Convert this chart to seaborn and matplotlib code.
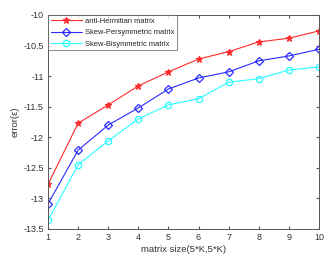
import matplotlib
matplotlib.use("Agg")
import matplotlib.pyplot as plt
import seaborn as sns
import pandas as pd

sizes = [1, 2, 3, 4, 5, 6, 7, 8, 9, 10]
anti_hermitian = [-12.77, -11.77, -11.47, -11.16, -10.93, -10.72, -10.60, -10.44, -10.38, -10.26]
skew_persym = [-13.09, -12.21, -11.80, -11.52, -11.21, -11.03, -10.93, -10.75, -10.67, -10.56]
skew_bisym = [-13.36, -12.45, -12.06, -11.70, -11.47, -11.37, -11.10, -11.04, -10.90, -10.85]
series_names = ["anti-Hermitian matrix", "Skew-Persymmetric matrix", "Skew-Bisymmetric matrix"]
xticks = [1, 2, 3, 4, 5, 6, 7, 8, 9, 10]
yticks = [-13.5, -13, -12.5, -12, -11.5, -11, -10.5, -10]

df = pd.concat([
    pd.DataFrame({"K": sizes, "err": anti_hermitian, "series": series_names[0]}),
    pd.DataFrame({"K": sizes, "err": skew_persym, "series": series_names[1]}),
    pd.DataFrame({"K": sizes, "err": skew_bisym, "series": series_names[2]}),
])

sns.set_style("white")
plt.rcParams['font.family'] = ['Liberation Sans', 'DejaVu Sans']

fig = plt.figure(figsize=(3.32, 2.61), dpi=100)
ax = fig.add_axes([48/332, 1 - 229/261, (319-48)/332, (229-15)/261])

colors = ["#ff2a2a", "#2a2aff", "#2affff"]
palette = dict(zip(series_names, colors))
markers = {series_names[0]: "*", series_names[1]: "D", series_names[2]: "o"}
sns.lineplot(data=df, x="K", y="err", hue="series", style="series",
             palette=palette, markers=markers, dashes=False, ax=ax,
             linewidth=0.8, markersize=5)

def style_line(line):
    c = line.get_color()
    m = line.get_marker()
    line.set_markeredgecolor(c)
    line.set_markeredgewidth(0.9)
    if m == "*":
        line.set_markerfacecolor(c)
        line.set_markersize(5)
    elif m == "D":
        line.set_markerfacecolor("none")
        line.set_markersize(3.8)
    elif m == "o":
        line.set_markerfacecolor("none")
        line.set_markersize(4.5)

for line in ax.get_lines():
    style_line(line)

ax.set_xlim(1, 10)
ax.set_ylim(-13.5, -10)
ax.set_xticks(xticks)
ax.set_yticks(yticks)
ax.set_yticklabels([f"{t:g}" for t in yticks])
ax.tick_params(direction="in", length=2.5, labelsize=6.5, colors="#555555",
               top=True, right=True, bottom=True, left=True, labelcolor="#333333", pad=3)
for s in ax.spines.values():
    s.set_color("#555555")
    s.set_linewidth(0.7)
ax.set_xlabel("matrix size(5*K,5*K)", fontsize=6.8, color="#333333", labelpad=2)
ax.set_ylabel("error(ε)", fontsize=6.8, color="#333333", labelpad=3)

leg = ax.legend(loc="upper left", fontsize=5.4, frameon=True, fancybox=False,
                edgecolor="#555555", borderpad=0.35, labelspacing=0.55,
                handlelength=4.2, handletextpad=0.4, borderaxespad=0)
leg.get_frame().set_linewidth(0.6)
for h in leg.legend_handles:
    style_line(h)
for t in leg.get_texts():
    t.set_color("#222222")

fig.savefig("out.png", dpi=100)
